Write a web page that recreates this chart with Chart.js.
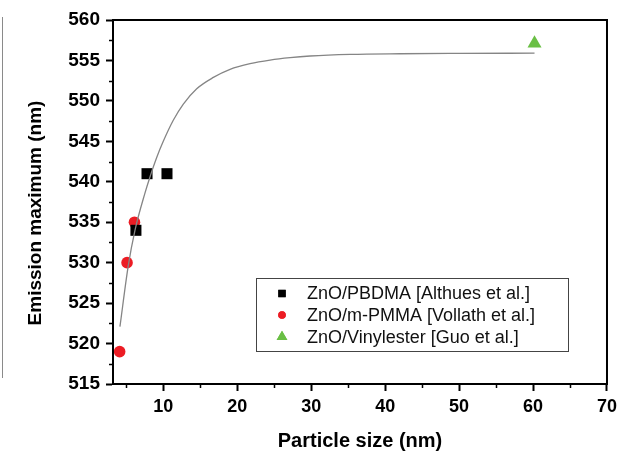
<!DOCTYPE html>
<html>
<head>
<meta charset="utf-8">
<title>Emission maximum vs particle size</title>
<script src="https://cdn.jsdelivr.net/npm/chart.js@4.4.1/dist/chart.umd.min.js"></script>
<style>
  html, body { margin: 0; padding: 0; background: #fff; }
  #wrap { position: relative; width: 622px; height: 453px; }
  #edge { position: absolute; left: 2px; top: 17px; width: 1px; height: 361px; background: #8a8a8a; }
  canvas { position: absolute; left: 0; top: 0; }
</style>
</head>
<body>
<div id="wrap">
  <canvas id="chart" width="622" height="453"></canvas>
  <div id="edge"></div>
</div>
<script>
// Measured emission maxima (nm) against particle size (nm)
const pbdmaSize = [6.3, 7.8, 10.5];
const pbdmaEmission = [534, 541, 541];

const pmmaSize = [4.1, 5.1, 6.1];
const pmmaEmission = [519, 530, 535];

const vinylSize = [60.2];
const vinylEmission = [557.1];

// Fitted trend curve, sampled along its length
const fitSize = [4.14, 5.26, 6.17, 7.52, 8.20, 9.11, 10.0, 11.35, 12.71, 14.52, 16.77, 19.03, 21.73, 24.44, 27.15, 29.85, 35.3, 42.0, 50.0, 60.2];
const fitEmission = [522.1, 529.6, 534.0, 538.6, 540.6, 543.0, 545.0, 547.6, 549.6, 551.5, 552.9, 553.9, 554.6, 555.05, 555.35, 555.55, 555.75, 555.83, 555.87, 555.9];

// Axis ticks
const xTicks = [10, 20, 30, 40, 50, 60, 70];
const xMinorTicks = [5, 15, 25, 35, 45, 55, 65];
const yTicks = [515, 520, 525, 530, 535, 540, 545, 550, 555, 560];
const yMinorTicks = [517.5, 522.5, 527.5, 532.5, 537.5, 542.5, 547.5, 552.5, 557.5];

const seriesNames = [
  'ZnO/PBDMA [Althues et al.]',
  'ZnO/m-PMMA [Vollath et al.]',
  'ZnO/Vinylester [Guo et al.]'
];

const FONT = '"Liberation Sans", Arial, Helvetica, sans-serif';

const toPoints = (xs, ys) => xs.map((x, i) => ({ x: x, y: ys[i] }));

const markerStyles = [
  { pointStyle: 'rect', color: '#000000', radius: 7.8, legendRadius: 5.2 },
  { pointStyle: 'circle', color: '#ec1c24', radius: 5.8, legendRadius: 3.8 },
  { pointStyle: 'triangle', color: '#6abf45', radius: 8.1, legendRadius: 6.2 }
];

// Frame, minor ticks, rotated y title and the inset legend
const decorations = {
  id: 'decorations',
  afterDraw(chart) {
    const ctx = chart.ctx;
    const area = chart.chartArea;
    const xs = chart.scales.x;
    const ys = chart.scales.y;
    ctx.save();

    // plot frame
    ctx.strokeStyle = '#000';
    ctx.lineWidth = 2;
    ctx.strokeRect(area.left, area.top, area.right - area.left, area.bottom - area.top);

    // minor ticks, outward
    ctx.lineWidth = 1.5;
    ctx.beginPath();
    xMinorTicks.forEach(v => {
      const px = Math.round(xs.getPixelForValue(v)) + 0.5;
      ctx.moveTo(px, area.bottom);
      ctx.lineTo(px, area.bottom + 4);
    });
    yMinorTicks.forEach(v => {
      const py = Math.round(ys.getPixelForValue(v)) + 0.5;
      ctx.moveTo(area.left, py);
      ctx.lineTo(area.left - 4, py);
    });
    ctx.stroke();

    // y axis title
    ctx.save();
    ctx.translate(36, 213);
    ctx.rotate(-Math.PI / 2);
    ctx.font = 'bold 19px ' + FONT;
    ctx.fillStyle = '#000';
    ctx.textAlign = 'center';
    ctx.textBaseline = 'middle';
    ctx.fillText('Emission maximum (nm)', 0, 0);
    ctx.restore();

    // legend
    const box = { left: 256, top: 278, width: 312, height: 73 };
    ctx.fillStyle = '#fff';
    ctx.fillRect(box.left, box.top, box.width, box.height);
    ctx.strokeStyle = '#444';
    ctx.lineWidth = 1;
    ctx.strokeRect(box.left + 0.5, box.top + 0.5, box.width, box.height);
    const rowY = [293.5, 315, 337];
    ctx.font = '18px ' + FONT;
    ctx.textAlign = 'left';
    ctx.textBaseline = 'middle';
    seriesNames.forEach((name, i) => {
      const m = markerStyles[i];
      ctx.fillStyle = m.color;
      ctx.strokeStyle = m.color;
      Chart.helpers.drawPoint(ctx, { pointStyle: m.pointStyle, radius: m.legendRadius, rotation: 0, borderWidth: 0 }, 282, rowY[i]);
      ctx.fill();
      ctx.fillStyle = '#111';
      ctx.fillText(name, 307, rowY[i] + 1);
    });

    ctx.restore();
  }
};

const markerDataset = (i, xs, ys) => ({
  label: seriesNames[i],
  data: toPoints(xs, ys),
  pointStyle: markerStyles[i].pointStyle,
  pointRadius: markerStyles[i].radius,
  pointHoverRadius: markerStyles[i].radius,
  pointBackgroundColor: markerStyles[i].color,
  pointBorderColor: markerStyles[i].color,
  pointBorderWidth: 0,
  showLine: false,
  order: 1
});

new Chart(document.getElementById('chart'), {
  type: 'scatter',
  data: {
    datasets: [
      {
        label: 'fit',
        data: toPoints(fitSize, fitEmission),
        showLine: true,
        borderColor: '#858585',
        borderWidth: 1.3,
        pointRadius: 0,
        cubicInterpolationMode: 'monotone',
        fill: false,
        order: 0
      },
      markerDataset(0, pbdmaSize, pbdmaEmission),
      markerDataset(1, pmmaSize, pmmaEmission),
      markerDataset(2, vinylSize, vinylEmission)
    ]
  },
  plugins: [decorations],
  options: {
    responsive: false,
    animation: false,
    events: [],
    layout: { padding: { left: 0, top: 20, right: 15, bottom: 0 } },
    plugins: {
      legend: { display: false },
      tooltip: { enabled: false }
    },
    scales: {
      x: {
        type: 'linear',
        min: 3.2,
        max: 70,
        afterBuildTicks: s => { s.ticks = xTicks.map(v => ({ value: v })); },
        afterFit: s => { s.height = 69; },
        grid: { drawOnChartArea: false, drawTicks: true, tickLength: 7, tickWidth: 2, tickColor: '#000' },
        border: { display: true, color: '#000', width: 2 },
        ticks: {
          color: '#000',
          padding: 5,
          maxRotation: 0,
          font: { family: FONT, size: 18, weight: 'bold' }
        },
        title: {
          display: true,
          text: 'Particle size (nm)',
          color: '#000',
          padding: { top: 0, bottom: 0 },
          font: { family: FONT, size: 20, weight: 'bold' }
        }
      },
      y: {
        type: 'linear',
        min: 515,
        max: 560,
        afterBuildTicks: s => { s.ticks = yTicks.map(v => ({ value: v })); },
        afterFit: s => { s.width = 113; },
        grid: { drawOnChartArea: false, drawTicks: true, tickLength: 7, tickWidth: 2, tickColor: '#000' },
        border: { display: true, color: '#000', width: 2 },
        ticks: {
          color: '#000',
          padding: 6,
          font: { family: FONT, size: 19, weight: 'bold' }
        }
      }
    }
  }
});
</script>
</body>
</html>
